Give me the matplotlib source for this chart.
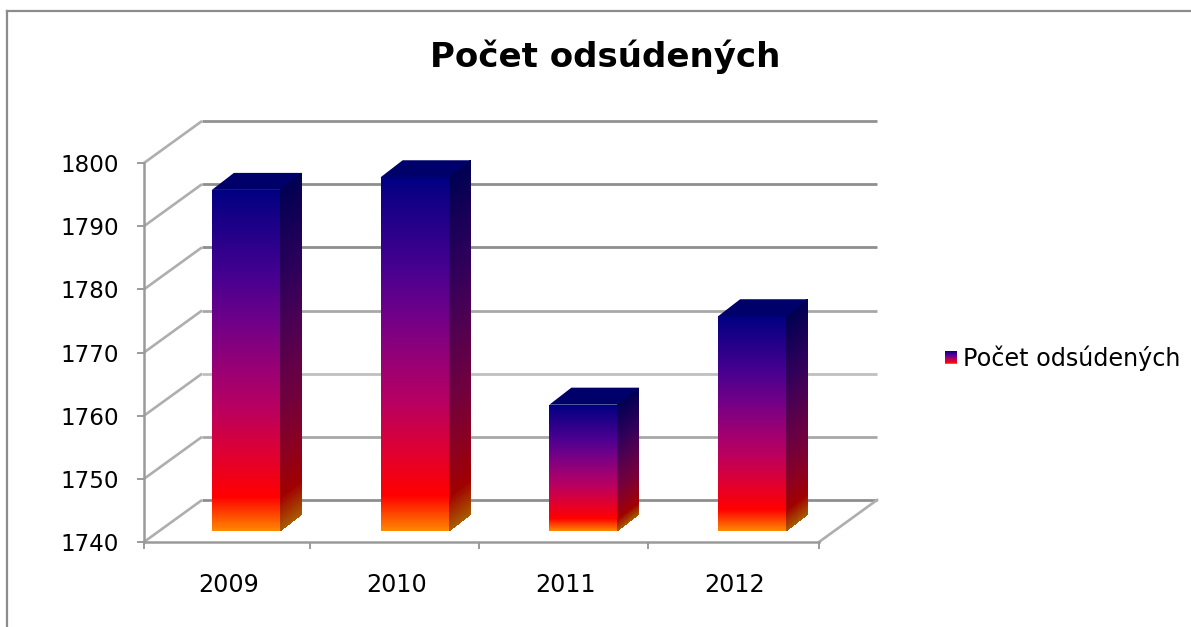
#!/usr/bin/env python3
"""Pocet odsudenych, fake 3D column chart."""
import numpy as np
import matplotlib
matplotlib.use("Agg")
import matplotlib.pyplot as plt
from matplotlib.colors import LinearSegmentedColormap
from matplotlib.lines import Line2D

W, H = 1191, 627

title = "Počet odsúdených"
series_name = "Počet odsúdených"
years = ["2009", "2010", "2011", "2012"]
values = [1794, 1796, 1760, 1774]
y_ticks = [1740, 1750, 1760, 1770, 1780, 1790, 1800]
x_edges = [0, 0.983, 1.985, 2.985, 4]
grid_colors = ["#8e8e8e", "#a8a8a8", "#c0c0c0", "#a8a8a8", "#8e8e8e", "#8e8e8e", "#929292"]

plt.rcParams["font.family"] = "DejaVu Sans"

# gradient of the columns, bottom to top
stops = [(0, "#ff8800"), (0.1, "#ff0000"), (0.22, "#e00030"), (0.36, "#b80060"),
         (0.45, "#a00070"), (0.61, "#700088"), (0.74, "#480090"), (1, "#000082")]
side_stops = [(0, "#a85c00"), (0.1, "#a00000"), (0.22, "#8c0020"), (0.36, "#72003c"),
              (0.45, "#640046"), (0.61, "#460055"), (0.74, "#2d005a"), (1, "#000052")]
front_cmap = LinearSegmentedColormap.from_list("front", stops, N=1024)
side_cmap = LinearSegmentedColormap.from_list("side", side_stops, N=1024)

fig = plt.figure(figsize=(W / 100, H / 100), dpi=100)
ax = fig.add_axes([144 / W, (H - 542) / H, 675 / W, 379 / H])
ax.set_xlim(0, 4)
ax.set_ylim(y_ticks[0], y_ticks[-1])

# pixels to data units
px_x = 4 / 675
px_y = 60 / 379

# depth of the walls and of the columns
wall_dx, wall_dy = 58 * px_x, 42 * px_y
bar_dx, bar_dy = 22 * px_x, 17 * px_y
shift_x, shift_y = 17.5 * px_x, 11 * px_y
bar_w = 68 * px_x

# walls
for tick, col in zip(y_ticks, grid_colors):
    ax.plot([0, wall_dx], [tick, tick + wall_dy], color="#aeaeae", lw=1.9,
            clip_on=False, zorder=1, solid_capstyle="butt")
    ax.plot([wall_dx, 4 + wall_dx], [tick + wall_dy] * 2, color=col, lw=2.0,
            clip_on=False, zorder=1, solid_capstyle="butt")
ax.plot([4, 4 + wall_dx], [y_ticks[0], y_ticks[0] + wall_dy], color="#aeaeae",
        lw=1.9, clip_on=False, zorder=1)

# columns
n = 400
for i, val in enumerate(values):
    x0 = i + 0.5 - bar_w / 2 + shift_x
    x1 = x0 + bar_w
    y0 = y_ticks[0] + shift_y
    y1 = val + shift_y
    t = (np.linspace(0, 1, n, endpoint=False) + 0.5 / n)[:, None]

    # front face
    edges = np.linspace(y0, y1, n + 1)
    xx = np.array([[x0, x1]] * (n + 1))
    yy = np.column_stack([edges, edges])
    ax.pcolormesh(xx, yy, t, cmap=front_cmap, vmin=0, vmax=1, shading="flat",
                  clip_on=False, zorder=3)

    # right side
    xx = np.array([[x1, x1 + bar_dx]] * (n + 1))
    yy = np.column_stack([edges, edges + bar_dy])
    ax.pcolormesh(xx, yy, t, cmap=side_cmap, vmin=0, vmax=1, shading="flat",
                  clip_on=False, zorder=3)

    # top
    ax.fill([x0, x1, x1 + bar_dx, x0 + bar_dx], [y1, y1, y1 + bar_dy, y1 + bar_dy],
            color="#00006a", lw=0, clip_on=False, zorder=3)

# axes lines and ticks
for s in ["top", "right"]:
    ax.spines[s].set_visible(False)
for s in ["left", "bottom"]:
    ax.spines[s].set_color("#9a9a9a")
    ax.spines[s].set_linewidth(1.8)
ax.patch.set_visible(False)

ax.set_yticks(y_ticks)
ax.tick_params(axis="y", length=5, width=1.2, color="#8a8a8a", pad=13, labelsize=16.6)
ax.set_xticks(x_edges)
ax.set_xticklabels([])
ax.tick_params(axis="x", which="major", length=5, width=1.2, color="#8a8a8a")
ax.set_xticks(np.arange(len(years)) + 0.5, minor=True)
ax.set_xticklabels(years, minor=True)
ax.tick_params(axis="x", which="minor", length=0, pad=22, labelsize=17.2)

fig.text(605.5 / W, 1 - 57 / H, title, fontsize=24.5, fontweight="bold",
         ha="center", va="center")

# legend, swatch + text
leg = fig.add_axes([945 / W, (H - 364) / H, 12 / W, 13 / H])
leg.imshow(t[::-1], cmap=front_cmap, vmin=0, vmax=1, aspect="auto")
leg.axis("off")
fig.text(963 / W, 1 - 358 / H, series_name, fontsize=17.2, ha="left", va="center")

# chart frame, cut off by the edge of the picture
for xs, ys in [([7, 7], [H + 5, 11]), ([7, W + 5], [11, 11])]:
    fig.add_artist(Line2D(np.array(xs) / W, 1 - np.array(ys) / H, color="#8c8c8c",
                          lw=1.6, transform=fig.transFigure))

fig.savefig("out.png", dpi=100)
